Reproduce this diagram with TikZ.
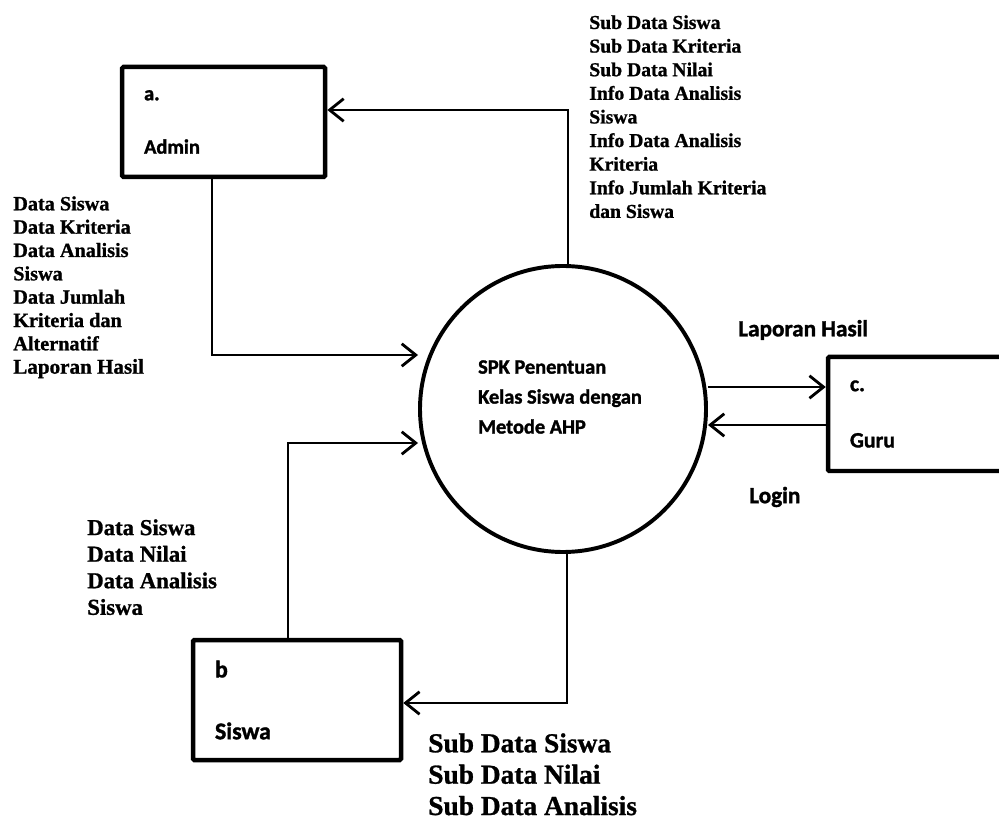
\documentclass[tikz,border=0pt]{standalone}
\usepackage{fontspec}
\setmainfont{Liberation Serif}[BoldFeatures={FakeBold=1}]
\newfontfamily\calibrib{Carlito}[BoldFont={Carlito Bold}, BoldFeatures={FakeBold=1.5}]
\usetikzlibrary{arrows.meta, positioning}

\begin{document}
\begin{tikzpicture}[
    entitas/.style={
        draw=black,
        line width=3.2pt,
        rounded corners=1pt,
        inner xsep=0.55cm,
        align=left,
        font=\calibrib\bfseries\fontsize{14.5}{17}\selectfont
    },
    proses/.style={
        circle,
        draw=black,
        line width=2.8pt,
        minimum size=7.15cm,
        inner sep=0pt
    },
    alir/.style={
        line width=2pt,
        -{Straight Barb[length=10pt, width=16pt]}
    },
    ket/.style={
        anchor=north west,
        align=left,
        inner sep=0pt,
        font=\bfseries
    },
    ketsans/.style={
        anchor=west,
        inner sep=0pt,
        font=\calibrib\bfseries\fontsize{16.5}{19}\selectfont
    }
]

\clip (0,0) rectangle (24.975,20.575);

% ============================================================
% PROSES
% ============================================================

\node[proses] (spk) at (14.075,10.35) {};

\node[
    align=left,
    inner sep=0pt,
    font=\calibrib\bfseries\fontsize{14.5}{21.3}\selectfont
] (spklabel) at (14.0,10.65)
{SPK Penentuan\\Kelas Siswa dengan\\Metode AHP};

% ============================================================
% ENTITAS
% ============================================================

\node[
    entitas,
    minimum width=5.075cm,
    minimum height=2.75cm,
    text width=3.975cm
] (admin) at (5.59,17.525)
{a.\\[21pt]Admin};

\node[
    entitas,
    minimum width=5.2cm,
    minimum height=3.0cm,
    text width=4.1cm,
    font=\calibrib\bfseries\fontsize{17}{19}\selectfont
] (siswa) at (7.425,3.075)
{b\\[25pt]Siswa};

\node[
    entitas,
    minimum width=5.5cm,
    minimum height=2.85cm,
    text width=4.4cm,
    font=\calibrib\bfseries\fontsize{15.5}{18}\selectfont
] (guru) at (23.45,10.225)
{c.\\[22pt]Guru};

% ============================================================
% ALIRAN DATA
% ============================================================

\coordinate (admbend) at (5.3,11.7);
\coordinate (sisbend) at (7.2,9.5);
\coordinate (topbend) at (14.2,17.825);
\coordinate (botbend) at (14.175,3.0);
\coordinate (lapy) at (0,10.9);
\coordinate (logy) at (0,9.95);

% Admin -> SPK
\draw[alir] (admin.south -| admbend) -- (admbend) -- (admbend -| spk.west);

% Siswa -> SPK
\draw[alir] (siswa.north -| sisbend) -- (sisbend) -- (sisbend -| spk.west);

% SPK -> Admin
\draw[alir] (spk.north -| topbend) -- (topbend) -- (admin.east |- topbend);

% SPK -> Siswa
\draw[alir] (spk.south -| botbend) -- (botbend) -- (siswa.east |- botbend);

% SPK <-> Guru
\draw[alir] (spk.east |- lapy) -- (guru.west |- lapy);
\draw[alir] (guru.west |- logy) -- (spk.east |- logy);

% ============================================================
% KETERANGAN
% ============================================================

\node[
    ket,
    font=\bfseries\fontsize{14}{16.8}\selectfont
] (ketadmin) at (14.725,20.2)
{
Sub Data Siswa\\
Sub Data Kriteria\\
Sub Data Nilai\\
Info Data Analisis\\
Siswa\\
Info Data Analisis\\
Kriteria\\
Info Jumlah Kriteria\\
dan Siswa
};

\node[
    ket,
    font=\bfseries\fontsize{14.4}{16.6}\selectfont
] (ketadminin) at (0.325,15.675)
{
Data Siswa\\
Data Kriteria\\
Data Analisis\\
Siswa\\
Data Jumlah\\
Kriteria dan\\
Alternatif\\
{\fontsize{15}{16.6}\selectfont Laporan Hasil}
};

\node[
    ket,
    font=\bfseries\fontsize{16.2}{18.9}\selectfont
] (ketsiswain) at (2.175,7.6)
{
Data Siswa\\
Data Nilai\\
Data Analisis\\
Siswa
};

\node[
    ket,
    font=\bfseries\fontsize{19.5}{22.3}\selectfont
] (ketsiswa) at (10.7,2.25)
{
Sub Data Siswa\\
Sub Data Nilai\\
Sub Data Analisis
};

\node[ketsans] (ketlaporan) at (18.45,12.325) {Laporan Hasil};

\node[ketsans] (ketlogin) at (18.725,8.15) {Login};

\end{tikzpicture}
\end{document}
